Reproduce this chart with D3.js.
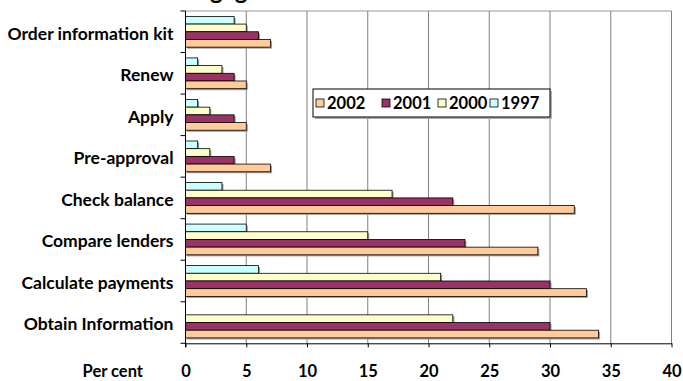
<!DOCTYPE html>
<html>
<head>
<meta charset="utf-8">
<script src="https://cdn.jsdelivr.net/npm/d3@7"></script>
<style>
  html, body { margin: 0; padding: 0; background: #fff; }
  svg { display: block; font-family: Lato, "Open Sans", sans-serif; font-weight: bold; }
</style>
</head>
<body>
<svg id="chart" width="683" height="381"></svg>
<script>
const categories = ["Order information kit", "Renew", "Apply", "Pre-approval", "Check balance", "Compare lenders", "Calculate payments", "Obtain Information"];
const seriesNames = ["1997", "2000", "2001", "2002"];
const values1997 = [4, 1, 1, 1, 3, 5, 6, 0];
const values2000 = [5, 3, 2, 2, 17, 15, 21, 22];
const values2001 = [6, 4, 4, 4, 22, 23, 30, 30];
const values2002 = [7, 5, 5, 7, 32, 29, 33, 34];
const seriesColors = ["#CCFFFF", "#FFFFCC", "#993366", "#FFCC99"];
const legendOrder = ["2002", "2001", "2000", "1997"];
const xTicks = [0, 5, 10, 15, 20, 25, 30, 35, 40];
const xTitle = "Per cent";

const seriesValues = [values1997, values2000, values2001, values2002];
const svg = d3.select("#chart");

const pLeft = 185.5, pRight = 671.5, pTop = 11, pBottom = 343.3;

const x = d3.scaleLinear().domain([0, 40]).range([pLeft, pRight]);
const y = d3.scaleBand().domain(categories).range([pTop, pBottom]).padding(0);
const yInner = d3.scaleBand().domain(seriesNames).range([0, y.bandwidth()]).paddingInner(0).paddingOuter(0.7);
const color = d3.scaleOrdinal().domain(seriesNames).range(seriesColors);

// Title (clipped at top of frame in the reference)
const title = svg.append("text").attr("y", -1.5).attr("font-size", 24).text("Mortgage");
const pre = title.node().getSubStringLength(0, 4);
title.attr("x", 210 - pre);

// plot border (top) and gridlines
svg.append("line").attr("x1", pLeft).attr("x2", pRight).attr("y1", pTop).attr("y2", pTop)
  .attr("stroke", "#999").attr("stroke-width", 1);
svg.append("g").selectAll("line").data(xTicks.slice(1)).join("line")
  .attr("x1", d => x(d)).attr("x2", d => x(d)).attr("y1", pTop).attr("y2", pBottom)
  .attr("stroke", "#808080").attr("stroke-width", 1);

// bars
const rows = [];
categories.forEach((c, i) => {
  seriesNames.forEach((s, j) => {
    rows.push({ cat: c, series: s, value: seriesValues[j][i] });
  });
});
const barData = rows.filter(d => d.value > 0);

svg.append("g").selectAll("rect").data(barData).join("rect")
  .attr("x", x(0) + 1.5)
  .attr("y", d => y(d.cat) + yInner(d.series) + 1.5)
  .attr("width", d => x(d.value) - x(0))
  .attr("height", yInner.bandwidth())
  .attr("fill", "#9a9a9a");

svg.append("g").selectAll("rect").data(barData).join("rect")
  .attr("x", x(0))
  .attr("y", d => y(d.cat) + yInner(d.series))
  .attr("width", d => x(d.value) - x(0))
  .attr("height", yInner.bandwidth())
  .attr("fill", d => color(d.series))
  .attr("stroke", "#000").attr("stroke-width", 0.8);

// x axis
const xAxis = d3.axisBottom(x).tickValues(xTicks).tickSize(4).tickSizeOuter(0).tickPadding(18);
const gx = svg.append("g").attr("transform", `translate(0,${pBottom})`).call(xAxis);
gx.select(".domain").attr("stroke", "#000");
gx.selectAll(".tick line").attr("stroke", "#000");
gx.selectAll(".tick text").attr("font-size", 16.5).attr("font-family", "Lato, sans-serif").attr("font-weight", "bold").attr("fill", "#000");

svg.append("text").attr("x", 143).attr("y", 377).attr("text-anchor", "end")
  .attr("font-size", 16.5).text(xTitle);

// y axis
const yAxis = d3.axisLeft(y).tickSize(0).tickPadding(12);
const gy = svg.append("g").attr("transform", `translate(${pLeft},0)`).call(yAxis);
gy.select(".domain").remove();
gy.selectAll(".tick text").attr("font-size", 17.5).attr("font-family", "Lato, sans-serif").attr("font-weight", "bold").attr("fill", "#000").attr("dy", "0.45em");
svg.append("line").attr("x1", pLeft).attr("x2", pLeft).attr("y1", pTop).attr("y2", pBottom + 4).attr("stroke", "#000");
const boundaries = categories.map(c => y(c)).concat([pBottom]);
svg.append("g").selectAll("line").data(boundaries).join("line")
  .attr("x1", pLeft - 5).attr("x2", pLeft).attr("y1", d => d).attr("y2", d => d).attr("stroke", "#000");

// legend
const lg = svg.append("g").attr("transform", "translate(313,89)");
lg.append("rect").attr("x", 2).attr("y", 2).attr("width", 237).attr("height", 28).attr("fill", "#b0b0b0");
lg.append("rect").attr("width", 237).attr("height", 28).attr("fill", "#fff").attr("stroke", "#000").attr("stroke-width", 1);
const itemX = [3, 69, 125, 177];
const items = lg.selectAll("g.item").data(legendOrder).join("g").attr("class", "item")
  .attr("transform", (d, i) => `translate(${itemX[i]},0)`);
items.append("rect").attr("x", 0).attr("y", 10).attr("width", 8).attr("height", 8)
  .attr("fill", d => color(d)).attr("stroke", "#000").attr("stroke-width", 0.8);
items.append("text").attr("x", 11).attr("y", 20).attr("font-size", 16.5).text(d => d);
</script>
</body>
</html>
